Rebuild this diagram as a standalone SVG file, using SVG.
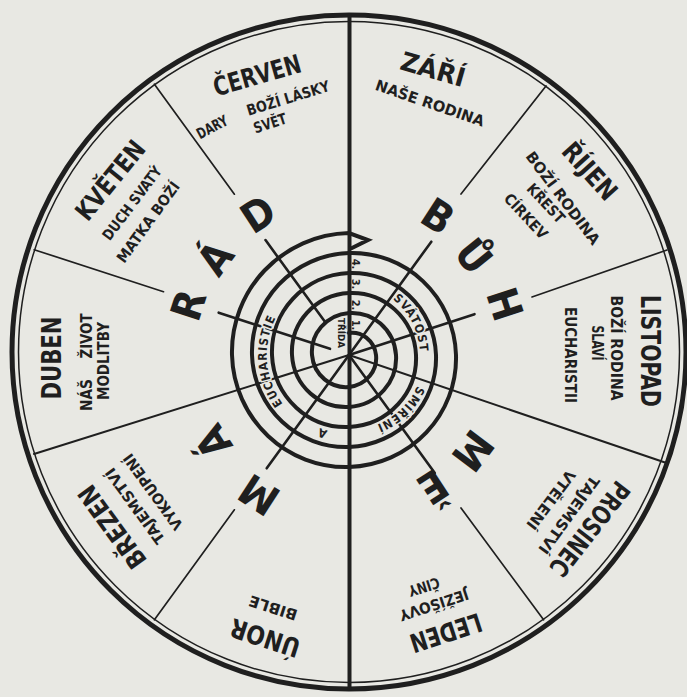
<svg xmlns="http://www.w3.org/2000/svg" width="687" height="697" viewBox="0 0 687 697">
<style>
.bg{fill:#e8e8e3}
.ink{stroke:#1f1f1f;fill:none;stroke-linecap:round}
.thin{stroke-width:1.7}
.spoke{stroke-width:2.6}
.txt{font-family:'DejaVu Sans Condensed','DejaVu Sans',sans-serif;font-weight:bold;fill:#1f1f1f;text-anchor:middle}
.m{font-size:26px}
.s{font-size:15px}
.L{font-size:42px}
.t{font-size:12px;letter-spacing:1px;stroke:#e8e8e3;stroke-width:3px;paint-order:stroke;stroke-linejoin:round}
.n{font-size:11px}
.tiny{font-size:8px}
</style>
<defs>
<path id="pSV" d="M370.9,287.5 A71,71 0 0 1 416.5,376.9"/>
<path id="pSM" d="M423.97,356.96 A75,75 0 0 1 347.04,429.97"/>
<path id="pA" d="M383.4,425.6 A78.5,78.5 0 0 1 278.4,389.4"/>
<path id="pEU" d="M295.6,417.5 A82.25,82.25 0 0 1 286.5,301.6"/>
</defs>
<rect class="bg" x="0" y="0" width="687" height="697"/>

<g id="connectors">
<circle class="ink" cx="349" cy="352" r="337" stroke-width="5"/>
<circle class="ink" cx="349" cy="352" r="330.5" stroke-width="1.5"/>
<line class="ink" x1="349.5" y1="15" x2="349.5" y2="689" stroke-width="4"/>
<line class="ink thin" x1="546" y1="86" x2="461" y2="194"/>
<line class="ink thin" x1="667" y1="250" x2="532" y2="297"/>
<line class="ink thin" x1="543.6" y1="619.8" x2="461" y2="508"/>
<line class="ink thin" x1="154.4" y1="619.8" x2="234.4" y2="509.8"/>
<line class="ink thin" x1="34.2" y1="249.7" x2="163.5" y2="291.7"/>
<line class="ink thin" x1="154.4" y1="84.2" x2="234.4" y2="194.2"/>
<line class="ink" stroke-width="2.1" x1="349" y1="355" x2="666.5" y2="463"/>
<line class="ink" stroke-width="2.1" x1="349" y1="355" x2="34" y2="454"/>
<line class="ink spoke" x1="349" y1="355" x2="431.3" y2="241.7"/>
<line class="ink spoke" x1="349" y1="355" x2="474.5" y2="314.2"/>
<line class="ink spoke" x1="349" y1="355" x2="434.8" y2="473.1"/>
<line class="ink spoke" x1="349" y1="355" x2="266.7" y2="468.3"/>
<line class="ink spoke" x1="330" y1="348.8" x2="218.7" y2="312.7"/>
<line class="ink spoke" x1="325.5" y1="322.6" x2="265.5" y2="240.1"/>
<path class="ink" stroke-width="4" stroke-linejoin="miter" d="M349,333 A23.25,23.25 0 0 1 366.32,337.68 A25.75,25.75 0 0 1 376,355 A28.25,28.25 0 0 1 369.86,375.86 A30.75,30.75 0 0 1 349,387 A33.25,33.25 0 0 1 324.61,379.39 A35.75,35.75 0 0 1 312,355 A38.25,38.25 0 0 1 321.07,327.07 A40.75,40.75 0 0 1 349,313 A43.25,43.25 0 0 1 380.47,323.53 A45.75,45.75 0 0 1 396,355 A48.25,48.25 0 0 1 384,390 A50.75,50.75 0 0 1 349,407 A53.25,53.25 0 0 1 310.46,393.54 A55.75,55.75 0 0 1 292,355 A58.25,58.25 0 0 1 306.93,312.93 A60.75,60.75 0 0 1 349,293 A63.25,63.25 0 0 1 394.61,309.39 A65.75,65.75 0 0 1 416,355 A68.25,68.25 0 0 1 398.14,404.14 A70.75,70.75 0 0 1 349,427 A73.25,73.25 0 0 1 296.32,407.68 A75.75,75.75 0 0 1 272,355 A78.25,78.25 0 0 1 292.79,298.79 A80.75,80.75 0 0 1 349,273 A83.25,83.25 0 0 1 408.75,295.25 A85.75,85.75 0 0 1 436,355 A88.25,88.25 0 0 1 412.29,418.29 A90.75,90.75 0 0 1 349,447 A93.25,93.25 0 0 1 282.18,421.82 A95.75,95.75 0 0 1 252,355 A98.25,98.25 0 0 1 278.64,284.64 A100.75,100.75 0 0 1 349,253 A103.25,103.25 0 0 1 422.89,281.11 A105.75,105.75 0 0 1 456,355 A108.25,108.25 0 0 1 426.43,432.43 A110.75,110.75 0 0 1 349,467 A113.25,113.25 0 0 1 268.04,435.96 A115.75,115.75 0 0 1 232,355 A118.25,118.25 0 0 1 264.5,270.5 A120.75,120.75 0 0 1 349,233 L368,240 L352,248"/>
</g>

<g id="center-labels" class="txt">
<text class="t"><textPath href="#pSV" startOffset="50%">SVÁTOST</textPath></text>
<text class="t"><textPath href="#pSM" startOffset="50%">SMÍŘENÍ</textPath></text>
<text class="t"><textPath href="#pA" startOffset="50%">A</textPath></text>
<text class="t"><textPath href="#pEU" startOffset="50%">EUCHARISTIE</textPath></text>
<text class="n" transform="translate(356 264) rotate(90)" dy="0.36em">4.</text>
<text class="n" transform="translate(356 284) rotate(90)" dy="0.36em">3.</text>
<text class="n" transform="translate(356 305) rotate(90)" dy="0.36em">2.</text>
<text class="n" transform="translate(356 325) rotate(90)" dy="0.36em">1.</text>
<text class="tiny" transform="translate(341 333) rotate(90)" dy="0.36em" textLength="30" lengthAdjust="spacingAndGlyphs">TŘÍDA</text>
</g>

<g id="ring-letters" class="txt L">
<text transform="translate(438 216) rotate(33)" dy="0.36em">B</text>
<text transform="translate(474 256) rotate(51)" dy="0.36em">Ů</text>
<text transform="translate(505 304) rotate(72)" dy="0.36em">H</text>
<text transform="translate(473 451) rotate(127)" dy="0.36em">M</text>
<text transform="translate(433 487) rotate(147)" dy="0.36em">Ě</text>
<text transform="translate(259 495) rotate(213)" dy="0.36em">M</text>
<text transform="translate(213 442) rotate(237)" dy="0.36em">Á</text>
<text transform="translate(188 305) rotate(288)" dy="0.36em">R</text>
<text transform="translate(215 258) rotate(306)" dy="0.36em">Á</text>
<text transform="translate(258 214) rotate(327)" dy="0.36em">D</text>
</g>

<g id="zari" class="txt">
<text class="m" transform="translate(433 69) rotate(16)" dy="0.36em" textLength="66" lengthAdjust="spacingAndGlyphs">ZÁŘÍ</text>
<text class="s" transform="translate(430 103) rotate(19)" dy="0.36em" textLength="114" lengthAdjust="spacingAndGlyphs">NAŠE RODINA</text>
</g>
<g id="rijen" class="txt">
<text class="m" transform="translate(590 171) rotate(48)" dy="0.36em" textLength="68" lengthAdjust="spacingAndGlyphs">ŘÍJEN</text>
<text class="s" transform="translate(563 198) rotate(53)" dy="0.36em" textLength="112" lengthAdjust="spacingAndGlyphs">BOŽÍ RODINA</text>
<text class="s" transform="translate(546 203) rotate(47)" dy="0.36em" textLength="48" lengthAdjust="spacingAndGlyphs">KŘEST</text>
<text class="s" transform="translate(526 216) rotate(47)" dy="0.36em" textLength="56" lengthAdjust="spacingAndGlyphs">CÍRKEV</text>
</g>
<g id="listopad" class="txt">
<text class="m" transform="translate(650 351) rotate(90)" dy="0.36em" textLength="112" lengthAdjust="spacingAndGlyphs">LISTOPAD</text>
<text class="s" transform="translate(616 348) rotate(90)" dy="0.36em" textLength="105" lengthAdjust="spacingAndGlyphs">BOŽÍ RODINA</text>
<text class="s" transform="translate(597 343) rotate(90)" dy="0.36em" textLength="35" lengthAdjust="spacingAndGlyphs">SLAVÍ</text>
<text class="s" transform="translate(570 355) rotate(90)" dy="0.36em" textLength="96" lengthAdjust="spacingAndGlyphs">EUCHARISTII</text>
</g>
<g id="prosinec" class="txt">
<text class="m" transform="translate(590 529) rotate(128)" dy="0.36em" textLength="112" lengthAdjust="spacingAndGlyphs">PROSINEC</text>
<text class="s" transform="translate(569 515) rotate(126)" dy="0.36em" textLength="92" lengthAdjust="spacingAndGlyphs">TAJEMSTVÍ</text>
<text class="s" transform="translate(551 500) rotate(127)" dy="0.36em" textLength="70" lengthAdjust="spacingAndGlyphs">VTĚLENÍ</text>
</g>
<g id="leden" class="txt">
<text class="m" transform="translate(446 633) rotate(162)" dy="0.36em" textLength="74" lengthAdjust="spacingAndGlyphs">LEDEN</text>
<text class="s" transform="translate(434 605) rotate(162)" dy="0.36em" textLength="72" lengthAdjust="spacingAndGlyphs">JEŽÍŠOVY</text>
<text class="s" transform="translate(424 587) rotate(162)" dy="0.36em" textLength="32" lengthAdjust="spacingAndGlyphs">ČINY</text>
</g>
<g id="unor" class="txt">
<text class="m" transform="translate(265 638) rotate(198)" dy="0.36em" textLength="72" lengthAdjust="spacingAndGlyphs">ÚNOR</text>
<text class="s" transform="translate(273 608) rotate(198)" dy="0.36em" textLength="50" lengthAdjust="spacingAndGlyphs">BIBLE</text>
</g>
<g id="brezen" class="txt">
<text class="m" transform="translate(112 527) rotate(234)" dy="0.36em" textLength="96" lengthAdjust="spacingAndGlyphs">BŘEZEN</text>
<text class="s" transform="translate(135 506) rotate(234)" dy="0.36em" textLength="90" lengthAdjust="spacingAndGlyphs">TAJEMSTVÍ</text>
<text class="s" transform="translate(153 492) rotate(234)" dy="0.36em" textLength="90" lengthAdjust="spacingAndGlyphs">VYKOUPENÍ</text>
</g>
<g id="duben" class="txt">
<text class="m" font-size="29" transform="translate(52 358) rotate(270)" dy="0.36em" textLength="83" lengthAdjust="spacingAndGlyphs">DUBEN</text>
<text class="s" transform="translate(87 395) rotate(270)" dy="0.36em" textLength="32" lengthAdjust="spacingAndGlyphs">NÁŠ</text>
<text class="s" transform="translate(87 336) rotate(270)" dy="0.36em" textLength="45" lengthAdjust="spacingAndGlyphs">ŽIVOT</text>
<text class="s" transform="translate(104 361) rotate(270)" dy="0.36em" textLength="78" lengthAdjust="spacingAndGlyphs">MODLITBY</text>
</g>
<g id="kveten" class="txt">
<text class="m" transform="translate(110 180) rotate(309)" dy="0.36em" textLength="94" lengthAdjust="spacingAndGlyphs">KVĚTEN</text>
<text class="s" transform="translate(132 203) rotate(307)" dy="0.36em" textLength="88" lengthAdjust="spacingAndGlyphs">DUCH SVATÝ</text>
<text class="s" transform="translate(148 222) rotate(306)" dy="0.36em" textLength="96" lengthAdjust="spacingAndGlyphs">MATKA BOŽÍ</text>
</g>
<g id="cerven" class="txt">
<text class="m" transform="translate(257 75) rotate(-16)" dy="0.36em" textLength="90" lengthAdjust="spacingAndGlyphs">ČERVEN</text>
<text class="s" transform="translate(212 127) rotate(-28)" dy="0.36em" textLength="33" lengthAdjust="spacingAndGlyphs">DARY</text>
<text class="s" transform="translate(288 98) rotate(-17)" dy="0.36em" textLength="86" lengthAdjust="spacingAndGlyphs">BOŽÍ LÁSKY</text>
<text class="s" transform="translate(270 123) rotate(-18)" dy="0.36em" textLength="34" lengthAdjust="spacingAndGlyphs">SVĚT</text>
</g>
</svg>
